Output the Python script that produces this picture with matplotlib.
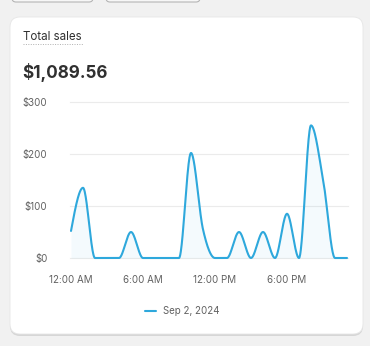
import numpy as np
import matplotlib.pyplot as plt
from matplotlib.patches import FancyBboxPatch

plt.rcParams['font.family'] = ['Inter', 'DejaVu Sans']

# hourly sales, Sep 2, 2024
hours = np.arange(24)
sales = [52, 135, 0, 0, 0, 50, 0, 0, 0, 0, 202, 55,
         0, 0, 50, 0, 50, 0, 85, 0, 255, 152, 0, 0]
xtick_pos = [0, 6, 12, 18]
xtick_labels = ["12:00 AM", "6:00 AM", "12:00 PM", "6:00 PM"]
ytick_pos = [0, 100, 200, 300]
ytick_labels = ["$0", "$100", "$200", "$300"]
title = "Total sales"
total = "$1,089.56"
series_name = "Sep 2, 2024"

line_color = "#2EA8DC"
W, H = 370, 346


def monotone(x, y, n=40):
    # d3 curveMonotoneX
    x = np.asarray(x, float)
    y = np.asarray(y, float)
    h = np.diff(x)
    s = np.diff(y) / h
    t = np.zeros(len(x))
    for i in range(1, len(x) - 1):
        p = (s[i - 1] * h[i] + s[i] * h[i - 1]) / (h[i - 1] + h[i])
        t[i] = (np.sign(s[i - 1]) + np.sign(s[i])) * min(abs(s[i - 1]), abs(s[i]), 0.5 * abs(p))
    t[0] = (3 * s[0] - t[1]) / 2
    t[-1] = (3 * s[-1] - t[-2]) / 2
    xs, ys = [], []
    for i in range(len(x) - 1):
        u = np.linspace(0, 1, n, endpoint=False)
        dx = h[i]
        h00 = 2 * u**3 - 3 * u**2 + 1
        h10 = u**3 - 2 * u**2 + u
        h01 = -2 * u**3 + 3 * u**2
        h11 = u**3 - u**2
        xs.append(x[i] + u * dx)
        ys.append(h00 * y[i] + h10 * dx * t[i] + h01 * y[i + 1] + h11 * dx * t[i + 1])
    xs.append([x[-1]])
    ys.append([y[-1]])
    return np.concatenate(xs), np.concatenate(ys)


fig = plt.figure(figsize=(W / 100, H / 100), dpi=100)
fig.patch.set_facecolor("#F1F1F1")

bg = fig.add_axes([0, 0, 1, 1])
bg.set_xlim(0, W)
bg.set_ylim(H, 0)
bg.axis("off")

# buttons peeking in at the top
for x0, x1 in [(12, 93), (106, 200)]:
    bg.add_patch(FancyBboxPatch((x0, -10), x1 - x0, 12, boxstyle="round,pad=0,rounding_size=4",
                                fc="#F7F7F7", ec="#B5B5B5", lw=0.8))

# card with a soft shadow
bg.add_patch(FancyBboxPatch((10, 18), 353, 318, boxstyle="round,pad=0,rounding_size=10",
                            fc="#D6D6D6", ec="none"))
bg.add_patch(FancyBboxPatch((10, 17), 353, 317, boxstyle="round,pad=0,rounding_size=10",
                            fc="white", ec="#E6E6E6", lw=0.6))

bg.text(23, 37, title, fontsize=8.3, color="#303030", va="center", ha="left")
bg.plot([23, 83], [44, 44], color="#B0B0B0", lw=0.7, ls=(0, (1, 1.5)))
bg.text(22, 72, total, fontsize=12.3, fontweight="bold", color="#303030", va="center", ha="left")

# legend
bg.plot([145, 156], [311, 311], color=line_color, lw=1.5, solid_capstyle="round")
bg.text(163, 311, series_name, fontsize=7, color="#616161", va="center", ha="left")

# chart
x0, x1 = 71, 347
y0, y1 = 258, 102
ax = fig.add_axes([x0 / W, (H - y0) / H, (x1 - x0) / W, (y0 - y1) / H])
ax.set_facecolor("none")
ax.set_xlim(0, 23)
ax.set_ylim(0, 300)

xs, ys = monotone(hours, sales)
ax.fill_between(xs, ys, 0, color=line_color, alpha=0.05, lw=0, clip_on=False)
ax.plot(xs, ys, color=line_color, lw=1.5, clip_on=False, solid_capstyle="round", zorder=3)

for v in ytick_pos:
    ax.axhline(v, color="#EBEBEB", lw=0.8, xmin=-0.005, xmax=1.005, clip_on=False, zorder=0)

ax.set_xticks(xtick_pos)
ax.set_xticklabels(xtick_labels)
ax.set_yticks(ytick_pos)
ax.set_yticklabels(ytick_labels)
ax.tick_params(axis="x", length=0, pad=12, labelsize=7, labelcolor="#616161")
ax.tick_params(axis="y", length=0, pad=17, labelsize=7, labelcolor="#616161")
for sp in ax.spines.values():
    sp.set_visible(False)

fig.savefig("out.png", dpi=100, facecolor=fig.get_facecolor())
